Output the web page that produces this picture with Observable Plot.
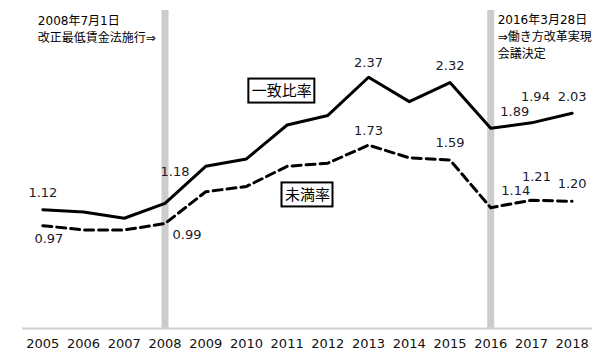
<!DOCTYPE html>
<html>
<head>
<meta charset="utf-8">
<script src="https://cdn.jsdelivr.net/npm/d3@7"></script>
<script src="https://cdn.jsdelivr.net/npm/@observablehq/plot@0.6"></script>
<style>
  html, body { margin: 0; padding: 0; background: #fff; }
</style>
</head>
<body>
<div id="chart"></div>
<script>
const years = [2005, 2006, 2007, 2008, 2009, 2010, 2011, 2012, 2013, 2014, 2015, 2016, 2017, 2018];
const ichiValues = [1.12, 1.10, 1.04, 1.18, 1.53, 1.60, 1.92, 2.01, 2.37, 2.14, 2.32, 1.89, 1.94, 2.03];
const mimanValues = [0.97, 0.93, 0.93, 0.99, 1.29, 1.34, 1.53, 1.56, 1.73, 1.61, 1.59, 1.14, 1.21, 1.20];
const labeledYears = [2005, 2008, 2013, 2015, 2016, 2017, 2018];
const eventYears = [2008, 2016];
const eventNotes = ["2008年7月1日\n改正最低賃金法施行⇒", "2016年3月28日\n⇒働き方改革実現\n会議決定"];
const seriesNames = ["一致比率", "未満率"];
const seriesNameX = [2010.87, 2011.5];
const seriesNameY = [2.24, 1.26];

// label offsets (style only)
const ichiOffsets = {2005: [0, -17], 2008: [10, -32], 2013: [0, -14], 2015: [0, -17], 2016: [24, -16], 2017: [4, -26], 2018: [0, -16]};
const mimanOffsets = {2005: [6, 13], 2008: [22, 11], 2013: [0, -14], 2015: [0, -17], 2016: [25, -17], 2017: [5, -23], 2018: [0, -17]};

const ichi = years.map((y, i) => ({year: y, value: ichiValues[i]}));
const miman = years.map((y, i) => ({year: y, value: mimanValues[i]}));
const ichiLabels = ichi.filter(d => labeledYears.includes(d.year));
const mimanLabels = miman.filter(d => labeledYears.includes(d.year));
const names = seriesNames.map((n, i) => ({name: n, x: seriesNameX[i], y: seriesNameY[i]}));

const font = "'DejaVu Sans', 'Noto Sans CJK JP', sans-serif";

function labelMarks(data, offsets) {
  return data.map(d => Plot.text([d], {
    x: "year", y: "value", text: d => d.value.toFixed(2),
    dx: offsets[d.year][0], dy: offsets[d.year][1],
    fontSize: 13, fill: "#1a1a2a"
  }));
}

const boxed = Plot.text(names, {
  x: "x", y: "y", text: "name", fontSize: 15, fill: "#000",
  fontFamily: "'Noto Sans CJK JP', sans-serif",
  render(index, scales, values, dimensions, context, next) {
    const g = next(index, scales, values, dimensions, context);
    const ns = "http://www.w3.org/2000/svg";
    const wrap = document.createElementNS(ns, "g");
    for (const i of index) {
      const w = names[i].name.length * 15 + 6;
      const h = 24;
      const r = document.createElementNS(ns, "rect");
      r.setAttribute("x", values.x[i] - w / 2);
      r.setAttribute("y", values.y[i] - h / 2);
      r.setAttribute("width", w);
      r.setAttribute("height", h);
      r.setAttribute("fill", "white");
      r.setAttribute("stroke", "black");
      r.setAttribute("stroke-width", 2);
      wrap.appendChild(r);
    }
    wrap.appendChild(g);
    return wrap;
  }
});

const chart = Plot.plot({
  width: 610,
  height: 360,
  marginLeft: 22,
  marginRight: 18,
  marginTop: 10,
  marginBottom: 32,
  style: {fontFamily: font, fontSize: "13px", background: "white", color: "#111"},
  x: {domain: [2004.5, 2018.5], ticks: years, tickFormat: d => String(d), tickSize: 0, tickPadding: 10, label: null},
  y: {domain: [0, 3], axis: null},
  marks: [
    Plot.ruleX(eventYears, {y1: 0, y2: 3, stroke: "#cccccc", strokeWidth: 7}),
    Plot.ruleY([0], {stroke: "#d0d0d0", strokeWidth: 2}),
    Plot.line(miman, {x: "year", y: "value", stroke: "black", strokeWidth: 3, strokeDasharray: "9,5"}),
    Plot.line(ichi, {x: "year", y: "value", stroke: "black", strokeWidth: 3}),
    ...labelMarks(ichiLabels, ichiOffsets),
    ...labelMarks(mimanLabels, mimanOffsets),
    Plot.text([{x: 2005, t: eventNotes[0]}], {x: "x", y: () => 3, text: "t", textAnchor: "start", lineAnchor: "top", dx: -5, dy: 2, fontSize: 12, lineHeight: 1.42, fill: "#000"}),
    Plot.text([{x: 2016, t: eventNotes[1]}], {x: "x", y: () => 3, text: "t", textAnchor: "start", lineAnchor: "top", dx: 7, dy: 1, fontSize: 12, lineHeight: 1.42, fill: "#000"}),
    boxed
  ]
});
document.getElementById("chart").appendChild(chart);
</script>
</body>
</html>
